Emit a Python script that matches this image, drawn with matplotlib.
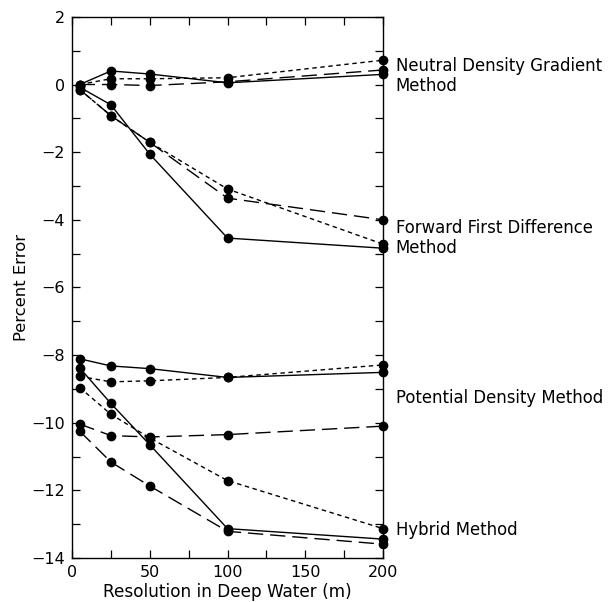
import matplotlib
matplotlib.use("Agg")
import matplotlib.pyplot as plt
from matplotlib.ticker import MultipleLocator

# Resolution in deep water (m)
resolution = [5, 25, 50, 100, 200]

# Neutral density gradient method
ndg_solid = [0.0, 0.40, 0.31, 0.05, 0.30]
ndg_short = [0.0, 0.17, 0.17, 0.20, 0.72]
ndg_long = [0.0, 0.0, -0.03, 0.08, 0.43]

# Forward first difference method
ffd_solid = [-0.08, -0.60, -2.06, -4.54, -4.84]
ffd_short = [-0.15, -0.92, -1.71, -3.09, -4.72]
ffd_long = [-0.15, -0.92, -1.71, -3.36, -4.00]

# Potential density method
pd_solid = [-8.11, -8.32, -8.40, -8.66, -8.51]
pd_short = [-8.63, -8.79, -8.76, -8.66, -8.29]
pd_long = [-10.04, -10.38, -10.42, -10.35, -10.10]

# Hybrid method
hy_solid = [-8.38, -9.43, -10.65, -13.13, -13.44]
hy_short = [-8.96, -9.75, -10.45, -11.71, -13.13]
hy_long = [-10.25, -11.16, -11.87, -13.21, -13.59]

method_labels = [
    ("Neutral Density Gradient\nMethod", 0.25),
    ("Forward First Difference\nMethod", -4.54),
    ("Potential Density Method", -9.28),
    ("Hybrid Method", -13.18),
]

styles = {
    "solid": (0, ()),
    "short": (0, (3.2, 2.6)),
    "long": (0, (11, 5)),
}

series = [
    (ndg_solid, "solid"), (ndg_short, "short"), (ndg_long, "long"),
    (ffd_solid, "solid"), (ffd_short, "short"), (ffd_long, "long"),
    (pd_solid, "solid"), (pd_short, "short"), (pd_long, "long"),
    (hy_solid, "solid"), (hy_short, "short"), (hy_long, "long"),
]

plt.rcParams["font.family"] = ["DejaVu Sans"]

fig = plt.figure(figsize=(6.10, 6.02), dpi=100)
ax = fig.add_axes([0.118, 0.073, 0.510, 0.899])

for values, style in series:
    ax.plot(resolution, values, color="black", linewidth=1.0,
            linestyle=styles[style], marker="o", markersize=6,
            markerfacecolor="black", markeredgecolor="black",
            clip_on=False, zorder=3)

ax.set_xlim(0, 200)
ax.set_ylim(-14, 2)
ax.xaxis.set_major_locator(MultipleLocator(50))
ax.xaxis.set_minor_locator(MultipleLocator(25))
ax.yaxis.set_major_locator(MultipleLocator(2))
ax.yaxis.set_minor_locator(MultipleLocator(1))
ax.tick_params(which="both", direction="in", top=True, right=True,
               length=5.5, width=0.9, labelsize=11.5, pad=5)
for spine in ax.spines.values():
    spine.set_linewidth(1.0)

ax.set_xlabel("Resolution in Deep Water (m)", fontsize=12.2, labelpad=2)
ax.set_ylabel("Percent Error", fontsize=11.8, labelpad=2)

for text, yv in method_labels:
    ax.text(1.04, yv, text, transform=ax.get_yaxis_transform(),
            fontsize=11.9, ha="left", va="center", linespacing=1.2)

fig.savefig("out.png", dpi=100)
